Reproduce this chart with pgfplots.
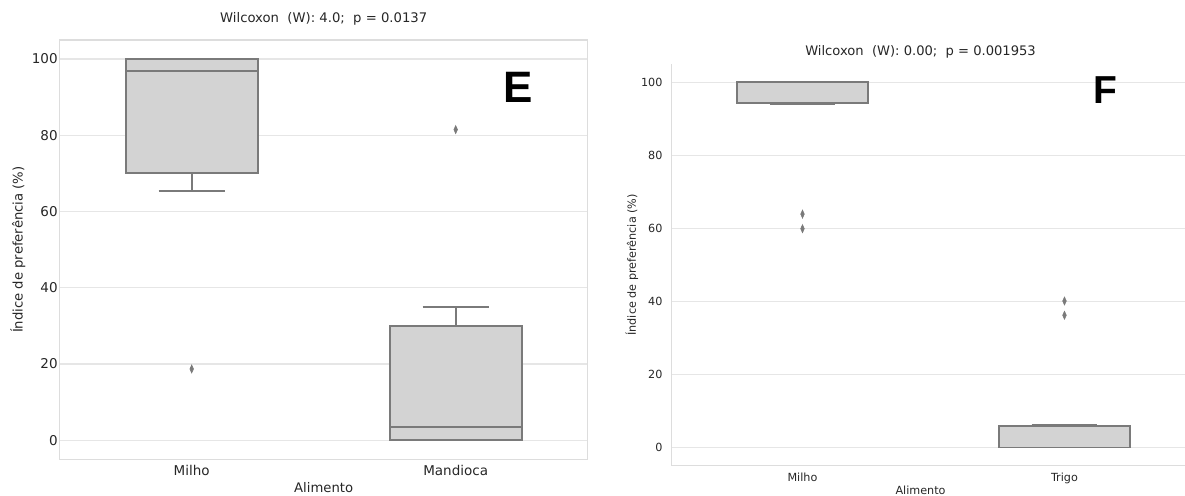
\documentclass[border=0pt]{standalone}
\usepackage{pgfplots}
\pgfplotsset{compat=1.18}
\usepgfplotslibrary{statistics}
\usepackage{fontspec}
\setmainfont{DejaVu Sans}
\newfontfamily\panelfont{Liberation Sans}

\definecolor{txt}{HTML}{262626}
\definecolor{boxedge}{HTML}{7A7A7A}
\definecolor{boxfill}{HTML}{D3D3D3}
\definecolor{gridc}{HTML}{E6E6E6}
\definecolor{spinec}{HTML}{DDDDDD}

\pgfplotsset{
  sbbox/.style={
    /pgf/number format/assume math mode=true,
    scale only axis,
    anchor=south west,
    xmin=-0.5, xmax=1.5,
    ymin=-5, ymax=105,
    xtick={0,1},
    ytick={0,20,40,60,80,100},
    major tick length=0pt,
    ymajorgrids,
    grid style={gridc, line width=0.6pt},
    axis line style={spinec, line width=0.6pt},
    tick label style={txt},
    label style={txt},
    title style={txt},
    boxplot/draw direction=y,
    boxplot/box extend=0.5,
    boxplot/whisker extend=0.25,
    boxplot/every box/.style={draw=boxedge, fill=boxfill, line width=0.85pt},
    boxplot/every whisker/.style={draw=boxedge, line width=0.85pt},
    boxplot/every median/.style={draw=boxedge, line width=0.85pt},
  },
  fliers/.style={
    draw=boxedge, line width=0.85pt,
    mark=diamond*, mark size=2pt,
    mark options={fill=boxedge, draw=boxedge, xscale=0.6, line width=0.3pt},
  },
}

\begin{document}
\begin{tikzpicture}
\useasboundingbox (0,0) rectangle (592.5pt,247.5pt);

% Panel E: Milho vs Mandioca
\begin{axis}[sbbox,
  at={(29.85pt,17.85pt)}, width=264pt, height=209.65pt,
  xticklabels={Milho, Mandioca},
  tick label style={font=\fontsize{6.75pt}{8pt}\selectfont},
  xticklabel style={yshift=0.5pt},
  yticklabel style={xshift=2.5pt},
  xlabel={Alimento},
  ylabel={Índice de preferência (\%)},
  label style={font=\fontsize{6.6pt}{8pt}\selectfont},
  xlabel style={at={(axis description cs:0.5,-0.0684)}, anchor=center},
  ylabel style={at={(axis description cs:-0.079,0.5)}, anchor=center},
  title={Wilcoxon\ \ (W): 4.0;\ \ p = 0.0137},
  title style={font=\fontsize{6.6pt}{8pt}\selectfont, at={(axis description cs:0.5,1.0215)}, anchor=center},
]
\addplot[fliers, boxplot prepared={draw position=0,
  lower whisker=65.3, lower quartile=70.1, median=96.8,
  upper quartile=100, upper whisker=100}]
  coordinates {(0,18.7)};
\addplot[fliers, boxplot prepared={draw position=1,
  lower whisker=0, lower quartile=0, median=3.46,
  upper quartile=30.05, upper whisker=34.9}]
  coordinates {(1,81.5)};
\end{axis}

% Panel F: Milho vs Trigo (its right edge runs off the page)
\begin{axis}[sbbox,
  at={(335.75pt,14.65pt)}, width=256.75pt, height=200.85pt,
  xmax=1.46,
  axis x line*=bottom, axis y line*=left,
  xticklabels={Milho, Trigo},
  tick label style={font=\fontsize{5.6pt}{7pt}\selectfont},
  xticklabel style={yshift=0pt},
  yticklabel style={xshift=-1pt},
  xlabel={Alimento},
  ylabel={Índice de preferência (\%)},
  label style={font=\fontsize{5.6pt}{7pt}\selectfont},
  xlabel style={at={(axis description cs:0.485,-0.0605)}, anchor=center},
  ylabel style={at={(axis description cs:-0.0772,0.5)}, anchor=center},
  title={Wilcoxon\ \ (W): 0.00;\ \ p = 0.001953},
  title style={font=\fontsize{6.55pt}{8pt}\selectfont, at={(axis description cs:0.485,1.0)}, anchor=center},
]
\addplot[fliers, boxplot prepared={draw position=0,
  lower whisker=93.9, lower quartile=94.3, median=94.3,
  upper quartile=100, upper whisker=100}]
  coordinates {(0,63.9) (0,59.9)};
\addplot[fliers, boxplot prepared={draw position=1,
  lower whisker=0, lower quartile=0, median=5.9,
  upper quartile=5.9, upper whisker=6.25}]
  coordinates {(1,40.1) (1,36.2)};
\end{axis}

% panel letters
\node[font=\panelfont\bfseries\fontsize{22pt}{24pt}\selectfont, inner sep=0pt] at (259pt,204pt) {E};
\node[font=\panelfont\bfseries\fontsize{19.5pt}{22pt}\selectfont, inner sep=0pt] at (552.5pt,202.5pt) {F};
\end{tikzpicture}
\end{document}
